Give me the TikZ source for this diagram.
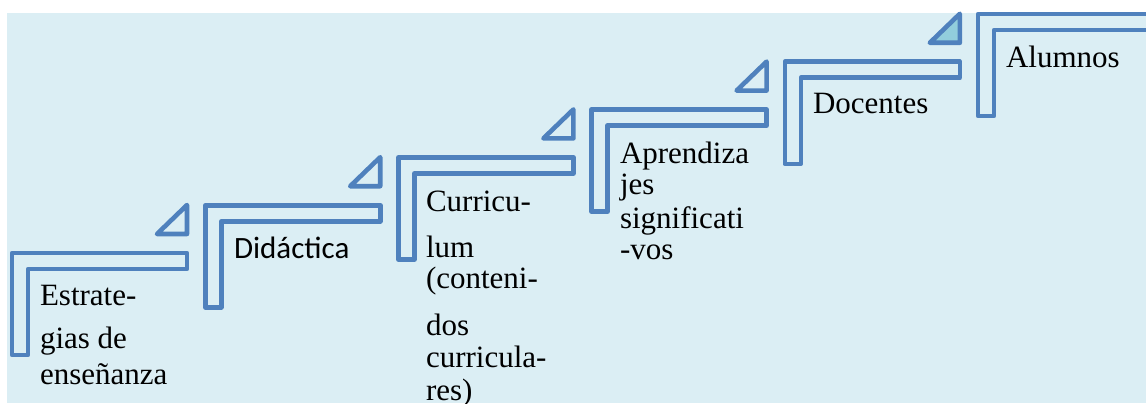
\documentclass[tikz,border=0pt]{standalone}
\usepackage{fontspec}
\setmainfont{Liberation Serif}[Ligatures=CommonOff]
\newfontfamily\carlito{Carlito}
\definecolor{bgblue}{HTML}{DBEEF4}
\definecolor{lineblue}{HTML}{4F81BD}
\definecolor{trifill}{HTML}{92CDDC}
\tikzset{
  stairline/.style={draw=lineblue, line width=4.6pt, line join=round},
  lbl/.style={anchor=base west, inner sep=0pt, outer sep=0pt, font=\fontsize{31}{33}\selectfont},
  sanslbl/.style={lbl, font=\carlito\fontsize{31}{33}\selectfont}
}
\begin{document}
\begin{tikzpicture}[x=1pt,y=-1pt]
\useasboundingbox (0,0) rectangle (1146,404);
\clip (0,0) rectangle (1146,404);
\fill[bgblue] (7,13) rectangle (1146,403);
% six steps
\foreach \i in {0,...,5}{
  \pgfmathsetmacro{\L}{12+193.2*\i}
  \pgfmathsetmacro{\T}{253-47.8*\i}
  \draw[stairline] (\L,\T+102) -- (\L,\T) -- (\L+175,\T) -- (\L+175,\T+16)
     -- (\L+16,\T+16) -- (\L+16,\T+102) -- cycle;
}
% small triangles
\foreach \i in {0,...,3}{
  \pgfmathsetmacro{\R}{187+193.2*\i}
  \pgfmathsetmacro{\T}{253-47.8*\i}
  \draw[stairline] (\R,\T-48) -- (\R,\T-19) -- (\R-30,\T-19) -- cycle;
}
\draw[stairline, fill=trifill] (959.8,13.8) -- (959.8,42.8) -- (929.8,42.8) -- cycle;
% labels
\node[lbl] (e1) at (40,305) {Estrate-};
\node[lbl] (e2) at (40,348) {gias de};
\node[lbl] (e3) at (40,384) {enseñanza};
\node[sanslbl] (d1) at (234,258) {Didáctica};
\node[lbl] (c1) at (426,211) {Curricu-};
\node[lbl] (c2) at (426,257) {lum};
\node[lbl] (c3) at (426,288) {(conteni-};
\node[lbl] (c4) at (426,335) {dos};
\node[lbl] (c5) at (426,367) {curricula-};
\node[lbl] (c6) at (426,400) {res)};
\node[lbl] (a1) at (620,163) {Aprendiza};
\node[lbl] (a2) at (620,194) {jes};
\node[lbl] (a3) at (620,228) {significati};
\node[lbl] (a4) at (620,259) {-vos};
\node[lbl] (doc) at (813,113) {Docentes};
\node[lbl] (alu) at (1006,67) {Alumnos};
\end{tikzpicture}
\end{document}
